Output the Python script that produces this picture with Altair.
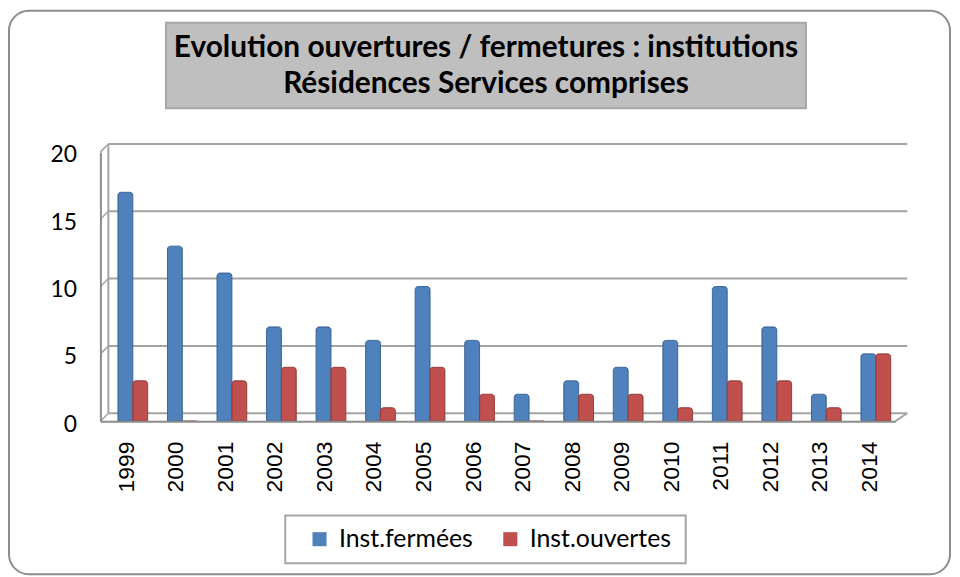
import altair as alt
import pandas as pd

years = ["1999", "2000", "2001", "2002", "2003", "2004", "2005", "2006",
         "2007", "2008", "2009", "2010", "2011", "2012", "2013", "2014"]
fermees = [17, 13, 11, 7, 7, 6, 10, 6, 2, 3, 4, 6, 10, 7, 2, 5]
ouvertes = [3, 0, 3, 4, 4, 1, 4, 2, 0, 2, 2, 1, 3, 3, 1, 5]
series = ["Inst.fermées", "Inst.ouvertes"]
colors = ["#4F81BD", "#C0504D"]
edge_colors = ["#3A6799", "#9A3B38"]
y_ticks = [0, 5, 10, 15, 20]
title_lines = ["Evolution ouvertures / fermetures : institutions",
               "Résidences Services comprises"]

rows = []
for i, yr in enumerate(years):
    rows.append({"year": yr, "series": series[0], "value": fermees[i]})
    rows.append({"year": yr, "series": series[1], "value": ouvertes[i]})
df = pd.DataFrame(rows)
ticks_df = pd.DataFrame({"tick": y_ticks})
wall_df = pd.DataFrame({"wmin": [min(y_ticks)], "wmax": [max(y_ticks)]})
one = pd.DataFrame({"k": [0]})

W, H = 800, 271
D = 8  # depth of pseudo-3D wall
ysc = alt.Scale(domain=[0, 20], nice=False)
grid_col = "#A3A3A3"
yaxis = alt.Axis(title=None, values=y_ticks, grid=False, ticks=False,
                 labelFont="Lato", labelFontSize=23, labelColor="black",
                 labelPadding=24, labelOffset=3, domainColor="#8C8C8C",
                 domainWidth=2, zindex=1)

outer = alt.Chart(one).mark_rect(fillOpacity=0, stroke="#8C8C8C", strokeWidth=2,
                                  cornerRadius=20).encode(
    x=alt.value(-92), x2=alt.value(855), y=alt.value(-142), y2=alt.value(425))

title_box = alt.Chart(one).mark_rect(fill="#BFBFBF", stroke="#A6A6A6", strokeWidth=2).encode(
    x=alt.value(66), x2=alt.value(710), y=alt.value(-130), y2=alt.value(-44))

title_text = alt.Chart(one).mark_text(font="Lato", fontWeight="bold", fontSize=30,
                                      color="black", lineHeight=37, baseline="middle",
                                      align="center").encode(
    x=alt.value(388), y=alt.value(-105), text=alt.value(title_lines))

grid = alt.Chart(ticks_df).mark_rule(color=grid_col, strokeWidth=2, yOffset=-D).encode(
    y=alt.Y("tick:Q", scale=ysc, axis=yaxis), x=alt.value(D), x2=alt.value(W + 12))

connectors = alt.Chart(ticks_df).mark_rule(color=grid_col, strokeWidth=1.5, y2Offset=-D).encode(
    y=alt.Y("tick:Q", scale=ysc, axis=yaxis), y2=alt.Y2("tick"),
    x=alt.value(0), x2=alt.value(D))

wall = alt.Chart(wall_df).mark_rule(color=grid_col, strokeWidth=2, yOffset=-D, y2Offset=-D).encode(
    y=alt.Y("wmax:Q", scale=ysc, axis=yaxis), y2=alt.Y2("wmin"), x=alt.value(D))

floor_edge = alt.Chart(wall_df).mark_rule(color=grid_col, strokeWidth=2, y2Offset=-D).encode(
    y=alt.Y("wmin:Q", scale=ysc, axis=yaxis), y2=alt.Y2("wmin"),
    x=alt.value(W), x2=alt.value(W + 12))

bars = alt.Chart(df).mark_bar(strokeWidth=1, cornerRadiusTopLeft=3,
                              cornerRadiusTopRight=3).encode(
    x=alt.X("year:N", sort=years,
            scale=alt.Scale(paddingInner=0.4, paddingOuter=0.224, align=0.79),
            axis=alt.Axis(title=None, labelAngle=270, labelAlign="right",
                          labelBaseline="middle", labelFont="Liberation Sans",
                          labelFontSize=23, labelColor="black", labelPadding=20,
                          labelOffset=-6, ticks=False, domainColor="#8C8C8C",
                          domainWidth=2, grid=False, zindex=1)),
    xOffset=alt.XOffset("series:N", sort=series,
                        scale=alt.Scale(domain=series, paddingInner=0, paddingOuter=0)),
    y=alt.Y("value:Q", scale=ysc, axis=yaxis),
    color=alt.Color("series:N", sort=series,
                    scale=alt.Scale(domain=series, range=colors),
                    legend=alt.Legend(title=None, orient="none", legendX=208, legendY=377,
                                      direction="horizontal", symbolType="square",
                                      symbolSize=200, symbolStrokeWidth=0,
                                      labelFont="Lato", labelFontSize=25,
                                      labelColor="black", labelOffset=7,
                                      columnPadding=25, labelLimit=300)),
    stroke=alt.Stroke("series:N", scale=alt.Scale(domain=series, range=edge_colors),
                      legend=None),
)

legend_box = alt.Chart(one).mark_rect(fill="white", stroke="#A6A6A6", strokeWidth=2).encode(
    x=alt.value(186), x2=alt.value(589), y=alt.value(366), y2=alt.value(414))

chart = alt.layer(outer, title_box, title_text, grid, connectors, wall, floor_edge,
                  legend_box, bars).properties(
    width=W, height=H,
    autosize=alt.AutoSizeParams(type="none"),
    padding={"left": 93, "top": 143, "right": 57, "bottom": 155},
).configure_view(stroke=None)

chart.save("out.html", embed_options={"renderer": "svg", "actions": False})
